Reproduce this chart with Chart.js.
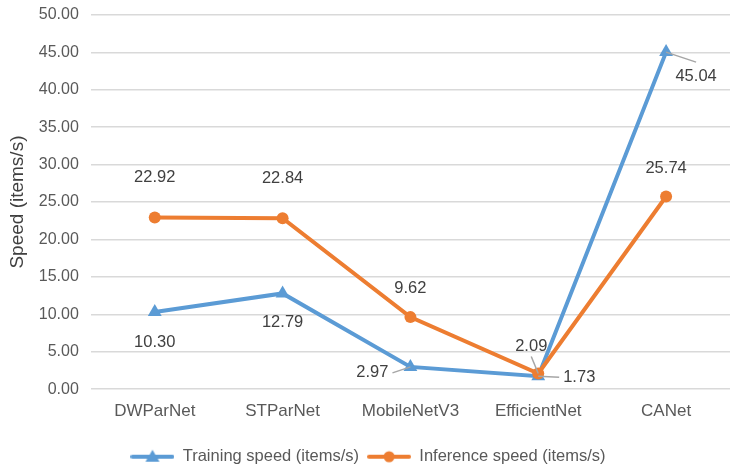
<!DOCTYPE html>
<html>
  <head>
    <script src="https://cdn.jsdelivr.net/npm/chart.js@4"></script>
    <style>
      body { margin: 0; background: #fff; }
    </style>
  </head>
  <body>
    <div style="width: 745px; height: 475px; position: relative">
      <canvas id="canvas"></canvas>
    </div>
    <script>
      const categories = ['DWParNet', 'STParNet', 'MobileNetV3', 'EfficientNet', 'CANet'];
      const trainingSpeed = [10.30, 12.79, 2.97, 1.73, 45.04];
      const inferenceSpeed = [22.92, 22.84, 9.62, 2.09, 25.74];
      const yTicks = [0, 5, 10, 15, 20, 25, 30, 35, 40, 45, 50];

      const BLUE = '#5B9BD5';
      const ORANGE = '#ED7D31';
      const TEXT = '#404040';
      const FONT = '"Liberation Sans", Arial, sans-serif';

      // label offsets from each point (dx, dy), plus optional leader line
      const labelPlace = [
        [
          { dx: 0, dy: 30 },
          { dx: 0, dy: 29 },
          { dx: -38, dy: 6, leader: true },
          { dx: 41, dy: 1, leader: true },
          { dx: 30, dy: 24, leader: true },
        ],
        [
          { dx: 0, dy: -40 },
          { dx: 0, dy: -40 },
          { dx: 0, dy: -29 },
          { dx: -7, dy: -27, leader: true },
          { dx: 0, dy: -28 },
        ],
      ];

      function legendIcon(color, shape) {
        const c = document.createElement('canvas');
        c.width = 44;
        c.height = 16;
        const g = c.getContext('2d');
        g.strokeStyle = color;
        g.lineWidth = 4;
        g.lineCap = 'round';
        g.beginPath();
        g.moveTo(2, 8);
        g.lineTo(42, 8);
        g.stroke();
        g.fillStyle = color;
        g.beginPath();
        if (shape === 'triangle') {
          g.moveTo(22, 1);
          g.lineTo(29, 13);
          g.lineTo(15, 13);
          g.closePath();
        } else {
          g.arc(22, 8, 5.5, 0, Math.PI * 2);
        }
        g.fill();
        return c;
      }

      const valueLabels = {
        id: 'valueLabels',
        afterDatasetsDraw(chart) {
          const ctx = chart.ctx;
          ctx.save();
          ctx.font = '16.5px ' + FONT;
          ctx.textAlign = 'center';
          ctx.textBaseline = 'middle';
          chart.data.datasets.forEach((ds, di) => {
            const meta = chart.getDatasetMeta(di);
            meta.data.forEach((pt, i) => {
              const p = labelPlace[di][i];
              const text = ds.data[i].toFixed(2);
              const lx = pt.x + p.dx;
              const ly = pt.y + p.dy;
              if (p.leader) {
                const w = ctx.measureText(text).width;
                let ex, ey;
                if (Math.abs(p.dx) > Math.abs(p.dy)) {
                  ex = lx - Math.sign(p.dx) * (w / 2 + 4);
                  ey = ly;
                } else {
                  ex = lx;
                  ey = ly + 10;
                }
                if (di === 0 && i === 4) { ex = lx; ey = ly - 14; }
                ctx.strokeStyle = '#A6A6A6';
                ctx.lineWidth = 1.5;
                ctx.beginPath();
                ctx.moveTo(pt.x, pt.y);
                ctx.lineTo(ex, ey);
                ctx.stroke();
              }
              ctx.fillStyle = TEXT;
              ctx.fillText(text, lx, ly);
            });
          });
          ctx.restore();
        },
      };

      const icons = [legendIcon(BLUE, 'triangle'), legendIcon(ORANGE, 'circle')];

      new Chart(document.getElementById('canvas').getContext('2d'), {
        type: 'line',
        data: {
          labels: categories,
          datasets: [
            {
              label: 'Training speed (items/s)',
              data: trainingSpeed,
              borderColor: BLUE,
              backgroundColor: BLUE,
              borderWidth: 4,
              pointStyle: 'triangle',
              pointRadius: 8,
              pointBorderWidth: 0,
              tension: 0,
              order: 1,
            },
            {
              label: 'Inference speed (items/s)',
              data: inferenceSpeed,
              borderColor: ORANGE,
              backgroundColor: ORANGE,
              borderWidth: 4,
              pointStyle: 'circle',
              pointRadius: 6,
              pointBorderWidth: 0,
              tension: 0,
              order: 0,
            },
          ],
        },
        options: {
          responsive: true,
          maintainAspectRatio: false,
          animation: false,
          layout: {
            padding: { left: 6, right: 15, top: 15, bottom: 0 },
          },
          plugins: {
            tooltip: { enabled: false },
            legend: {
              position: 'bottom',
              labels: {
                usePointStyle: true,
                pointStyleWidth: 44,
                padding: 8,
                color: '#595959',
                font: { family: FONT, size: 16.5 },
                generateLabels(chart) {
                  const items = Chart.defaults.plugins.legend.labels.generateLabels(chart);
                  items.sort((a, b) => a.datasetIndex - b.datasetIndex);
                  items.forEach((it) => {
                    it.pointStyle = icons[it.datasetIndex];
                  });
                  return items;
                },
              },
            },
          },
          scales: {
            x: {
              offset: true,
              afterFit(axis) {
                axis.height += 7;
              },
              grid: { display: false, drawTicks: false },
              border: { display: false },
              ticks: {
                color: '#595959',
                padding: 12,
                font: { family: FONT, size: 17 },
              },
            },
            y: {
              min: 0,
              max: 50,
              afterBuildTicks(axis) {
                axis.ticks = yTicks.map((v) => ({ value: v }));
              },
              afterFit(axis) {
                axis.paddingTop = 0;
                axis.paddingBottom = 0;
              },
              grid: { color: '#D9D9D9', lineWidth: 1.5, drawTicks: false },
              border: { display: false },
              ticks: {
                color: '#595959',
                padding: 12,
                font: { family: FONT, size: 16 },
                callback: (v) => Number(v).toFixed(2),
              },
              title: {
                display: true,
                text: 'Speed (items/s)',
                color: '#404040',
                padding: { top: 0, bottom: -2 },
                font: { family: FONT, size: 19 },
              },
            },
          },
        },
        plugins: [valueLabels],
      });
    </script>
  </body>
</html>
